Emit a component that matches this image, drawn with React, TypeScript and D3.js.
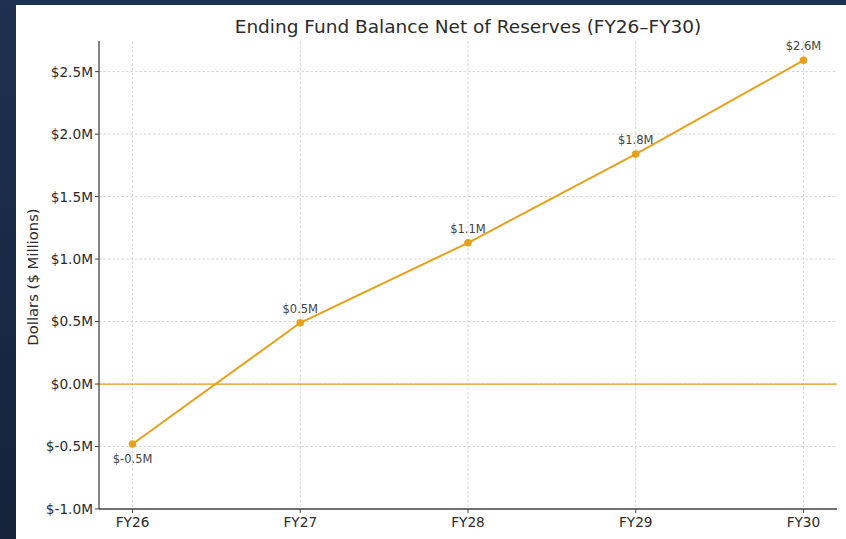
import React from "react";
import * as d3 from "d3";

const categories = ["FY26", "FY27", "FY28", "FY29", "FY30"];
const values = [-0.48, 0.49, 1.13, 1.84, 2.59];
const yTicks = [-1.0, -0.5, 0.0, 0.5, 1.0, 1.5, 2.0, 2.5];
const title = "Ending Fund Balance Net of Reserves (FY26–FY30)";
const yLabel = "Dollars ($ Millions)";

const W = 846;
const H = 539;
const FONT = "DejaVu Sans, sans-serif";
const LINE = "#e5a11a";

export default function App() {
  const left = 99, right = 837, top = 41, bottom = 509;
  const x = d3.scaleLinear().domain([-0.2, categories.length - 1 + 0.2]).range([left, right]);
  const y = d3.scaleLinear().domain([-1.0, 2.745]).range([bottom, top]);
  const line = d3.line<number>().x((_, i) => x(i)).y((d) => y(d));
  const fmt = (v: number) => `$${v.toFixed(1)}M`;

  return (
    <svg width={W} height={H} style={{ position: "fixed", left: 0, top: 0 }} fontFamily={FONT}>
      <defs>
        <linearGradient id="bg" x1="0" y1="0" x2="0" y2="1">
          <stop offset="0" stopColor="#1e3150" />
          <stop offset="1" stopColor="#15223a" />
        </linearGradient>
      </defs>
      <rect x={0} y={0} width={W} height={H} fill="url(#bg)" />
      <rect x={16} y={5} width={W - 16} height={H - 5} fill="#ffffff" />

      {/* grid */}
      {yTicks.map((t) => (
        <line key={"gy" + t} x1={left} x2={right} y1={y(t)} y2={y(t)} stroke="#cfcfcf" strokeWidth={0.9} strokeDasharray="2.5,2" />
      ))}
      {categories.map((c, i) => (
        <line key={"gx" + c} x1={x(i)} x2={x(i)} y1={top} y2={bottom} stroke="#cfcfcf" strokeWidth={0.9} strokeDasharray="2.5,2" />
      ))}

      {/* zero line */}
      <line x1={left} x2={right} y1={y(0)} y2={y(0)} stroke={LINE} strokeWidth={1.3} />

      {/* spines */}
      <line x1={left} x2={left} y1={top} y2={bottom} stroke="#444" strokeWidth={1.3} />
      <line x1={left} x2={right} y1={bottom} y2={bottom} stroke="#444" strokeWidth={1.3} />

      {/* y ticks */}
      {yTicks.map((t) => (
        <g key={"ty" + t} transform={`translate(${left},${y(t)})`}>
          <line x1={-4} x2={0} stroke="#444" strokeWidth={1} />
          <text x={-6} dy="0.36em" textAnchor="end" fontSize={13.7} fill="#2b2b2b">{fmt(t)}</text>
        </g>
      ))}
      {/* x ticks */}
      {categories.map((c, i) => (
        <g key={"tx" + c} transform={`translate(${x(i)},${bottom})`}>
          <line y1={0} y2={4} stroke="#444" strokeWidth={1} />
          <text y={17.5} textAnchor="middle" fontSize={13.7} fill="#2b2b2b">{c}</text>
        </g>
      ))}

      {/* line + points */}
      <path d={line(values) || ""} fill="none" stroke={LINE} strokeWidth={2} />
      {values.map((v, i) => (
        <circle key={"p" + i} cx={x(i)} cy={y(v)} r={3.8} fill={LINE} />
      ))}
      {values.map((v, i) => (
        <text key={"l" + i} x={x(i)} y={v < 0 ? y(v) + 19 : y(v) - 10} textAnchor="middle" fontSize={11.5} fill="#444">{fmt(v)}</text>
      ))}

      {/* title & label */}
      <text x={(left + right) / 2} y={33} textAnchor="middle" fontSize={18.5} fill="#2b2b2b">{title}</text>
      <text transform={`translate(38,${(top + bottom) / 2 + 2}) rotate(-90)`} textAnchor="middle" fontSize={14.8} fill="#2b2b2b">{yLabel}</text>
    </svg>
  );
}
